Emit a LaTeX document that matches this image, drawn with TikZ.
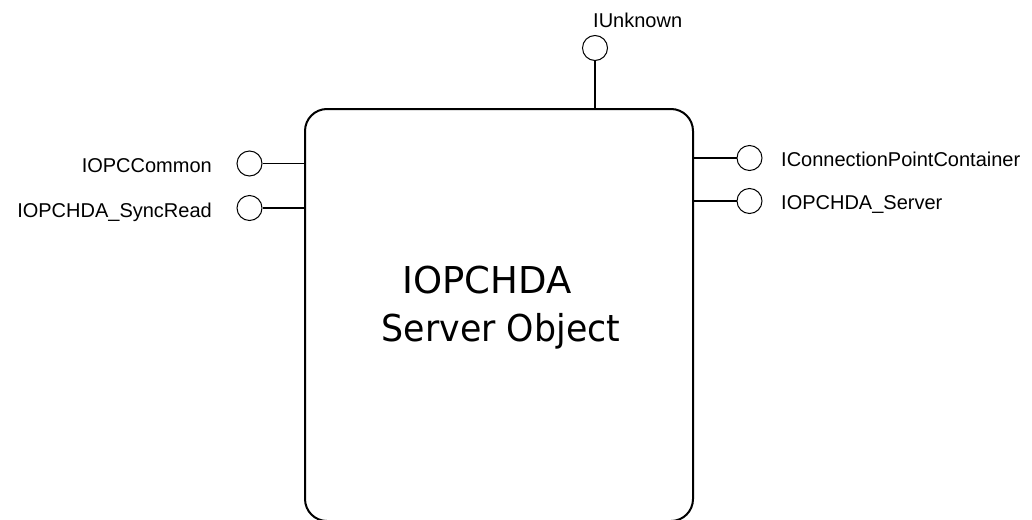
\documentclass[tikz,border=0pt]{standalone}
\usepackage{fontspec}
\setmainfont{Liberation Sans}
\newfontfamily\comicfont{DejaVu Sans}
\begin{document}
\begin{tikzpicture}[x=1pt,y=-1pt,
  iface/.style={draw, circle, line width=1pt, minimum size=25pt, inner sep=0pt},
  conn/.style={line width=1.8pt},
  objbox/.style={draw, line width=2pt, rounded corners=22pt, minimum width=388pt, minimum height=412pt, inner sep=0pt},
  lbl/.style={font=\fontsize{20}{24}\selectfont, inner sep=0pt},
  title/.style={font=\comicfont\fontsize{37}{44}\selectfont, inner sep=0pt}]
\useasboundingbox (0,0) rectangle (1032,519);
\clip (0,0) rectangle (1032,519);
\node[objbox] (box) at (499,315) {};
% interface circles
\node[iface] (cU) at (595,48) {};
\node[iface] (cC) at (249.5,163.5) {};
\node[iface] (cS) at (249.5,208) {};
\node[iface] (cP) at (749.5,158) {};
\node[iface] (cH) at (749.5,201) {};
% connectors
\draw[conn] (cU) -- (cU |- box.north);
\draw[conn] (cC) -- (cC -| box.west);
\draw[conn] (cS) -- (cS -| box.west);
\draw[conn] (cP) -- (cP -| box.east);
\draw[conn] (cH) -- (cH -| box.east);
% labels
\node[lbl, anchor=base west] (lU) at (593,28) {IUnknown};
\node[lbl, anchor=base east] (lC) at (212,172) {IOPCCommon};
\node[lbl, anchor=base east] (lS) at (212,217) {IOPCHDA\_SyncRead};
\node[lbl, anchor=base west] (lP) at (781,166) {IConnectionPointContainer};
\node[lbl, anchor=base west] (lH) at (781,209) {IOPCHDA\_Server};
% title
\node[title, anchor=base] (t1) at (487,293) {IOPCHDA};
\node[title, anchor=base, xscale=0.94] (t2) at (501,341) {Server Object};
\end{tikzpicture}
\end{document}
